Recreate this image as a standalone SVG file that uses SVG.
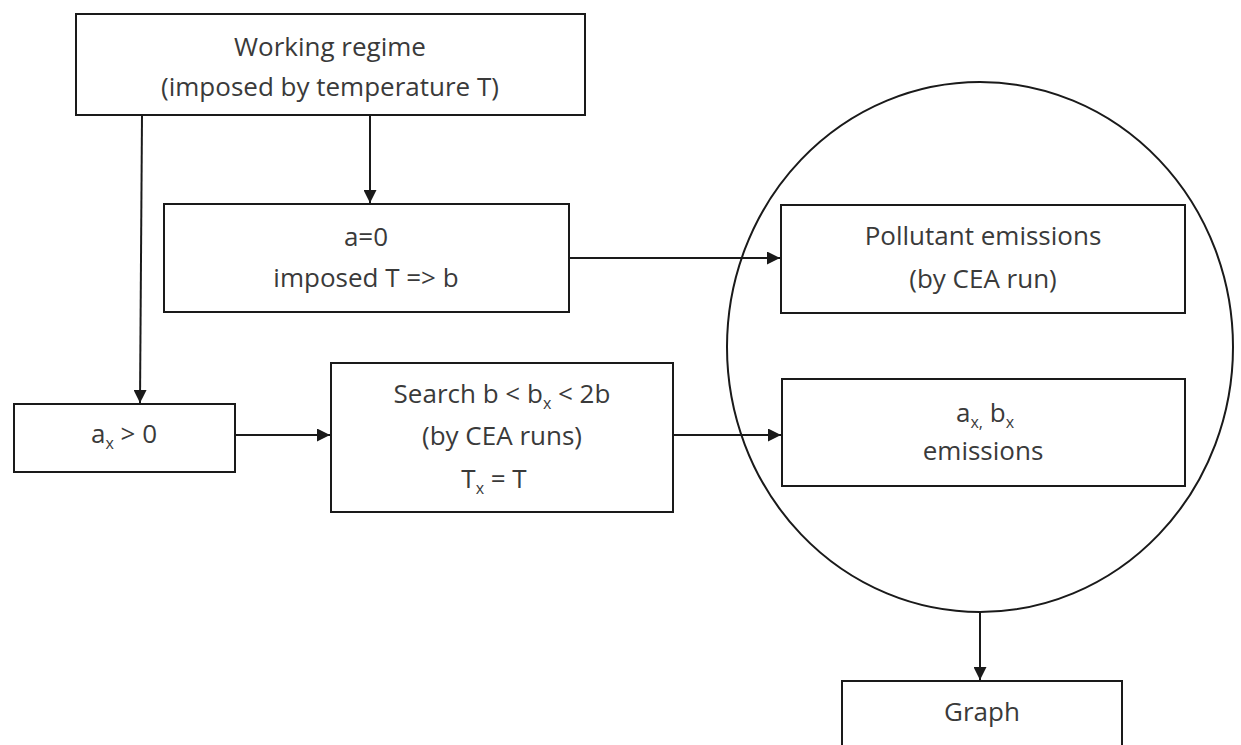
<svg xmlns="http://www.w3.org/2000/svg" width="1241" height="745" viewBox="0 0 1241 745">
<defs>
<style>
.box{fill:#fff;stroke:#1a1a1a;stroke-width:2}
.t{font-family:"Open Sans","Liberation Sans",sans-serif;font-size:26px;fill:#3a3a3a;text-anchor:middle}
.s{font-size:16px}
.c{stroke:#1a1a1a;stroke-width:2;fill:none}
</style>
<marker id="ah" viewBox="0 0 10 10" refX="10" refY="5" markerWidth="13" markerHeight="13" markerUnits="userSpaceOnUse" orient="auto">
<path d="M0,0 L10,5 L0,10 z" fill="#1a1a1a"/>
</marker>
</defs>
<rect width="1241" height="745" fill="#fff"/>
<ellipse id="circle" cx="980" cy="347" rx="253" ry="265" class="c" stroke-width="1.6"/>
<g id="connectors">
<line x1="142" y1="115" x2="140" y2="403" class="c" marker-end="url(#ah)"/>
<line x1="370" y1="115" x2="370" y2="203" class="c" marker-end="url(#ah)"/>
<line x1="569" y1="258" x2="780" y2="258" class="c" marker-end="url(#ah)"/>
<line x1="235" y1="435" x2="330" y2="435" class="c" marker-end="url(#ah)"/>
<line x1="673" y1="435" x2="781" y2="435" class="c" marker-end="url(#ah)"/>
<line x1="980" y1="612" x2="980" y2="680" class="c" marker-end="url(#ah)"/>
</g>
<g id="working">
<rect x="76" y="14" width="509" height="101" class="box"/>
<text x="330" y="56" class="t">Working regime</text>
<text x="330" y="96" class="t">(imposed by temperature T)</text>
</g>
<g id="a0">
<rect x="164" y="204" width="405" height="108" class="box"/>
<text x="366" y="246" class="t">a=0</text>
<text x="366" y="287" class="t">imposed T =&gt; b</text>
</g>
<g id="pollutant">
<rect x="781" y="205" width="404" height="108" class="box"/>
<text x="983" y="245" class="t">Pollutant emissions</text>
<text x="983" y="288" class="t">(by CEA run)</text>
</g>
<g id="ax">
<rect x="14" y="404" width="221" height="68" class="box"/>
<text x="124" y="443" class="t">a<tspan class="s" dy="6">x</tspan><tspan dy="-6"> &gt; 0</tspan></text>
</g>
<g id="search">
<rect x="331" y="363" width="342" height="149" class="box"/>
<text x="502" y="403" class="t">Search b &lt; b<tspan class="s" dy="6">x</tspan><tspan dy="-6"> &lt; 2b</tspan></text>
<text x="502" y="445" class="t">(by CEA runs)</text>
<text x="494" y="488" class="t">T<tspan class="s" dy="6">x</tspan><tspan dy="-6"> = T</tspan></text>
</g>
<g id="axbx">
<rect x="782" y="379" width="403" height="107" class="box"/>
<text x="985" y="422" class="t">a<tspan class="s" dy="6">x,</tspan><tspan dy="-6"> b</tspan><tspan class="s" dy="6">x</tspan></text>
<text x="983" y="460" class="t">emissions</text>
</g>
<g id="graph">
<rect x="842" y="681" width="280" height="80" class="box"/>
<text x="982" y="721" class="t">Graph</text>
</g>
</svg>
